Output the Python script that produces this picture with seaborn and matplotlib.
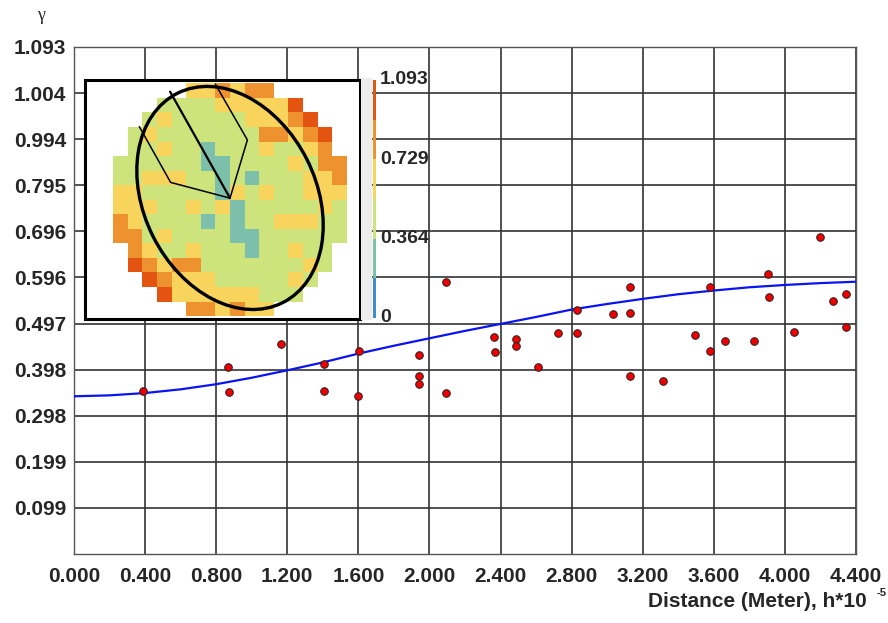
import numpy as np
import pandas as pd
import matplotlib
matplotlib.use("Agg")
import matplotlib.pyplot as plt
import seaborn as sns
from matplotlib.colors import ListedColormap
from matplotlib.patches import Ellipse

# ---------------- data ----------------
# experimental semivariogram points
pt_x = [0.390, 0.868, 0.872, 1.166, 1.405, 1.407, 1.602, 1.596, 1.939, 1.941, 1.941,
        2.095, 2.093, 2.365, 2.369, 2.488, 2.488, 2.609, 2.721, 2.830, 2.830, 3.032,
        3.128, 3.130, 3.128, 3.314, 3.492, 3.578, 3.580, 3.661, 3.827, 3.908, 3.903,
        4.049, 4.199, 4.270, 4.343, 4.342]
pt_y = [0.351, 0.403, 0.350, 0.453, 0.409, 0.352, 0.438, 0.341, 0.429, 0.383, 0.366,
        0.586, 0.348, 0.468, 0.435, 0.463, 0.448, 0.404, 0.476, 0.525, 0.476, 0.517,
        0.576, 0.520, 0.384, 0.373, 0.473, 0.576, 0.437, 0.459, 0.459, 0.555, 0.604,
        0.479, 0.683, 0.545, 0.561, 0.489]

# fitted model curve
curve_x = [0.0, 0.2, 0.4, 0.6, 0.8, 1.0, 1.2, 1.4, 1.6, 1.8, 2.0, 2.2, 2.4, 2.6,
           2.8, 3.0, 3.2, 3.4, 3.6, 3.8, 4.0, 4.2, 4.4]
curve_y = [0.340, 0.342, 0.347, 0.355, 0.366, 0.380, 0.396, 0.413, 0.432, 0.449,
           0.465, 0.481, 0.496, 0.511, 0.527, 0.539, 0.550, 0.560, 0.568, 0.575,
           0.580, 0.584, 0.587]

x_tick_labels = ["0.000", "0.400", "0.800", "1.200", "1.600", "2.000", "2.400",
                 "2.800", "3.200", "3.600", "4.000", "4.400"]
y_tick_values = [0.0994, 0.1987, 0.2981, 0.3975, 0.4968, 0.5962, 0.6956, 0.7949,
                 0.8943, 0.9936, 1.093]
y_tick_labels = ["0.099", "0.199", "0.298", "0.398", "0.497", "0.596", "0.696",
                 "0.795", "0.994", "1.004", "1.093"]

# inset map (16 x 16 cells), letters = colour class
grid_rows = [
    ".....YYOYOO.....",
    "...GGGGYYYYYR...",
    "..GYGGGGGYYYOR..",
    ".GYGGGGGGGOOYOR.",
    ".GGYGGTGGGYGGYO.",
    "GGGGGGTTGGGGYGOO",
    "GGYYYGGTGTGGGYYO",
    "YYGGGGGTYGYGGYYY",
    "YYYGGYGYTGGGGGYG",
    "OYGGGGTGTGGYYYGG",
    "OOGYGGGGTTGGGGGG",
    ".OYGGYGGGTGGYGG.",
    ".ROYOOGGGGGGGYG.",
    "..ROYYYGGGGGYG..",
    "...RYYYYYYGGG...",
    ".....OOYOYY.....",
]
class_value = {"B": 0.09, "T": 0.27, "G": 0.45, "Y": 0.64, "O": 0.82, "R": 1.00}
class_colors = ["#3d8fcf", "#7cbfaa", "#cde37b", "#f8d45c", "#ee922f", "#e2540f"]
cbar_ticks = [1.093, 0.729, 0.364, 0.0]
cbar_labels = ["1.093", "0.729", "0.364", "0"]

# direction polylines and ellipse in the inset (cell units)
rayA_x = [8.0, 3.93, 1.78]
rayA_y = [7.89, 6.81, 2.97]
rayB_x = [8.0, 3.89]
rayB_y = [7.89, 0.57]
rayC_x = [8.0, 9.19, 6.99]
rayC_y = [7.89, 3.89, 0.05]

# ---------------- figure ----------------
W, H = 888, 623
fig = plt.figure(figsize=(W / 100, H / 100), dpi=100)
sns.set_style("white")
plt.rcParams["font.family"] = ["Liberation Sans", "DejaVu Sans"]

L, R, T, B = 74, 856, 47, 554
ax = fig.add_axes([L / W, 1 - B / H, (R - L) / W, (B - T) / H])

sns.lineplot(x=curve_x, y=curve_y, ax=ax, color="#0a14f0", lw=1.6, zorder=3)
sns.scatterplot(x=pt_x, y=pt_y, ax=ax, color="#ee0000", edgecolor="#222222",
                linewidth=0.7, s=30, zorder=4, legend=False)

ax.set_xlim(0, 4.4)
ax.set_ylim(0, 1.093)
ax.set_xticks([float(s) for s in x_tick_labels])
ax.set_xticklabels(x_tick_labels, fontsize=15, fontweight="bold")
ax.set_yticks(y_tick_values)
ax.set_yticklabels(y_tick_labels, fontsize=15, fontweight="bold")
ax.tick_params(axis="x", length=0, pad=9)
ax.tick_params(axis="y", length=0, pad=5.5)
ax.grid(True, color="#333333", lw=1.2)
ax.set_axisbelow(True)
for s in ax.spines.values():
    s.set_visible(True)
    s.set_color("#555555")
    s.set_linewidth(1.0)
ax.set_xlabel("")
ax.set_ylabel("")

# labels
fig.text(41 / W, 1 - 15 / H, "γ", ha="center", va="center", fontsize=13,
         family=["Liberation Serif", "DejaVu Serif"])
fig.text(867 / W, 1 - 607 / H, "Distance (Meter), h*10", ha="right",
         va="baseline", fontsize=15, fontweight="bold")
fig.text(877 / W, 1 - 596 / H, "-5", ha="left", va="baseline", fontsize=8,
         fontweight="bold")

# ---------------- inset map ----------------
axin = fig.add_axes([85 / W, 1 - 319 / H, 275 / W, 239 / H])
vals = np.array([[class_value.get(ch, np.nan) for ch in row] for row in grid_rows])
df = pd.DataFrame(vals)
cmap = ListedColormap(class_colors)
sns.heatmap(df, ax=axin, cmap=cmap, vmin=0, vmax=1.093, cbar=False,
            xticklabels=False, yticklabels=False)
axin.set_facecolor("white")
axin.set_xlim(-1.94, 16.91)
axin.set_ylim(16.2, -0.23)
for s in axin.spines.values():
    s.set_visible(True)
    s.set_color("black")
    s.set_linewidth(2.2)
axin.add_patch(Ellipse((8.0, 7.88), width=11.8, height=16.1, angle=-26.6,
                       fill=False, lw=2.4, ec="black", zorder=5))
axin.plot(rayA_x, rayA_y, color="black", lw=1.1, zorder=6)
axin.plot(rayB_x, rayB_y, color="black", lw=1.6, zorder=6)
axin.plot(rayC_x, rayC_y, color="black", lw=1.1, zorder=6)

# ---------------- colour bar ----------------
cb_top, cb_bot = 80, 318
gax = fig.add_axes([361 / W, 1 - (cb_bot + 2) / H, 11 / W, (cb_bot - cb_top + 4) / H])
gax.set_facecolor("#ececec")
gax.set_xticks([]); gax.set_yticks([])
for s in gax.spines.values():
    s.set_visible(False)
cax = fig.add_axes([373 / W, 1 - cb_bot / H, 3 / W, (cb_bot - cb_top) / H])
levels = np.array(sorted(class_value.values())).reshape(-1, 1)
cax.imshow(levels, cmap=cmap, vmin=0, vmax=1.093, aspect="auto", origin="lower",
           extent=[0, 1, 0, 1.093], interpolation="nearest")
cax.axis("off")
for v, lab in zip(cbar_ticks, cbar_labels):
    ypix = cb_bot - v / 1.093 * (cb_bot - cb_top)
    fig.text(380 / W, 1 - ypix / H, lab, ha="left", va="center", fontsize=14,
             fontweight="bold")

fig.savefig("out.png", dpi=100)
